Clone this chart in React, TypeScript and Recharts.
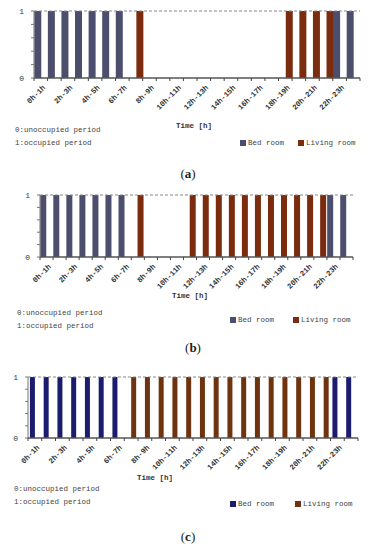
// occupancy schedule - three bar panels (a) (b) (c)

import { BarChart, Bar, XAxis, YAxis, ReferenceLine, Legend } from "recharts";

// hour categories, one per hour of the day
const hours = [
  "0h-1h", "1h-2h", "2h-3h", "3h-4h", "4h-5h", "5h-6h", "6h-7h", "7h-8h",
  "8h-9h", "9h-10h", "10h-11h", "11h-12h", "12h-13h", "13h-14h", "14h-15h", "15h-16h",
  "16h-17h", "17h-18h", "18h-19h", "19h-20h", "20h-21h", "21h-22h", "22h-23h", "23h-24h",
];

// (a)
const bedA    = [1, 1, 1, 1, 1, 1, 1, 0, 0, 0, 0, 0, 0, 0, 0, 0, 0, 0, 0, 0, 0, 0, 1, 1];
const livingA = [0, 0, 0, 0, 0, 0, 0, 1, 0, 0, 0, 0, 0, 0, 0, 0, 0, 0, 1, 1, 1, 1, 0, 0];

// (b)
const bedB    = [1, 1, 1, 1, 1, 1, 1, 0, 0, 0, 0, 0, 0, 0, 0, 0, 0, 0, 0, 0, 0, 0, 1, 1];
const livingB = [0, 0, 0, 0, 0, 0, 0, 1, 0, 0, 0, 1, 1, 1, 1, 1, 1, 1, 1, 1, 1, 1, 0, 0];

// (c)
const bedC    = [1, 1, 1, 1, 1, 1, 1, 0, 0, 0, 0, 0, 0, 0, 0, 0, 0, 0, 0, 0, 0, 0, 1, 1];
const livingC = [0, 0, 0, 0, 0, 0, 0, 1, 1, 1, 1, 1, 1, 1, 1, 1, 1, 1, 1, 1, 1, 1, 0, 0];

const yTicks = [0, 0.2, 0.4, 0.6, 0.8, 1];

const noteLines = ["0:unoccupied period", "1:occupied period"];

const MONO = "'Liberation Mono', 'DejaVu Sans Mono', monospace";
const SERIF = "'Liberation Serif', 'DejaVu Serif', serif";

const toRows = (bed: number[], living: number[]) =>
  hours.map((h, i) => ({ hour: h, bed: bed[i], living: living[i] }));

// layout of each panel (page coordinates)
const panels = [
  {
    caption: "a", rows: toRows(bedA, livingA), top: 0,
    margin: { top: 11, right: 16, left: 14, bottom: 36 },
    bedColor: "#4b4e6d", livingColor: "#7b2c0e", catGap: "2%",
    legend: { top: 138, left: 240, gap: 14 },
    time: { x: 194, y: 126 }, note: { x: 15, y: 130 }, cap: { x: 188, y: 174 },
  },
  {
    caption: "b", rows: toRows(bedB, livingB), top: 184,
    margin: { top: 11, right: 23, left: 20, bottom: 41 },
    bedColor: "#4b4e6d", livingColor: "#7b2c0e", catGap: "2%",
    legend: { top: 131, left: 230, gap: 19 },
    time: { x: 190, y: 296 }, note: { x: 17, y: 313 }, cap: { x: 193, y: 348 },
  },
  {
    caption: "c", rows: toRows(bedC, livingC), top: 366,
    margin: { top: 11, right: 18, left: 8, bottom: 42 },
    bedColor: "#1c1c6e", livingColor: "#6e3410", catGap: "14%",
    legend: { top: 133, left: 230, gap: 21 },
    time: { x: 155, y: 478 }, note: { x: 14, y: 489 }, cap: { x: 188, y: 537 },
  },
];


// x ticks: mark on every category boundary, label on every 2nd hour
function HourTick(props: any) {
  const { x, y, payload, index, visibleTicksCount } = props;
  const half = payload && payload.offset != null ? payload.offset : 6.8;
  const tx = x + 5;
  const ty = y + 10;
  return (
    <g>
      <line x1={x - half} y1={y} x2={x - half} y2={y + 3} stroke="#444" />
      {index === visibleTicksCount - 1 && (
        <line x1={x + half} y1={y} x2={x + half} y2={y + 3} stroke="#444" />
      )}
      {index % 2 === 0 && (
        <text x={tx} y={ty} transform={`rotate(-45 ${tx} ${ty})`} textAnchor="end"
          fontSize={7.5} fontWeight="bold" fill="#333" fontFamily={MONO}>
          {payload.value}
        </text>
      )}
    </g>
  );
}


function RoomLegend({ payload, gap }: any) {
  return (
    <div style={{ display: "flex", gap, fontFamily: MONO, fontSize: 7.5, color: "#444", lineHeight: "10px" }}>
      {(payload || []).map((p: any) => (
        <span key={p.value} style={{ display: "flex", alignItems: "center", gap: 2 }}>
          <span style={{ width: 6, height: 6, background: p.color, display: "inline-block" }} />
          {p.value}
        </span>
      ))}
    </div>
  );
}


function Panel({ p }: { p: (typeof panels)[number] }) {
  return (
    <div style={{ position: "absolute", left: 0, top: p.top }}>
      <BarChart width={376} height={150} data={p.rows} margin={p.margin} barCategoryGap={p.catGap} barGap={0}>
        <XAxis dataKey="hour" interval={0} height={36} tickLine={false} tickSize={0} tickMargin={0}
          axisLine={{ stroke: "#555", strokeWidth: 1.5 }} tick={<HourTick />} />
        <YAxis domain={[0, 1]} ticks={yTicks} width={20} tickSize={3} tickMargin={7}
          tickFormatter={(v: number) => (v === 0 || v === 1 ? String(v) : "")}
          tick={{ fontSize: 8, fill: "#333", fontFamily: MONO }}
          axisLine={{ stroke: "#777" }} tickLine={{ stroke: "#777" }} />
        <ReferenceLine y={1} stroke="#888" strokeDasharray="3 2" />
        <Bar dataKey="bed" name="Bed room" fill={p.bedColor} isAnimationActive={false} />
        <Bar dataKey="living" name="Living room" fill={p.livingColor} isAnimationActive={false} />
        <Legend layout="horizontal" verticalAlign="middle" align="center"
          wrapperStyle={{ top: p.legend.top, left: p.legend.left, width: "auto" }}
          content={<RoomLegend gap={p.legend.gap} />} />
      </BarChart>
    </div>
  );
}


export default function App() {
  const txt: React.CSSProperties = { position: "absolute", fontFamily: MONO, fontSize: 7.5, color: "#444", whiteSpace: "nowrap", lineHeight: "10px" };

  return (
    <div style={{ position: "absolute", left: 0, top: 0, width: 376, height: 550, background: "#fff", overflow: "hidden" }}>
      {panels.map((p) => (
        <div key={p.caption}>
          <Panel p={p} />

          {/* axis title */}
          <div style={{ ...txt, left: p.time.x, top: p.time.y - 5, transform: "translateX(-50%)", fontWeight: "bold", color: "#333" }}>
            Time [h]
          </div>

          {/* 0 / 1 meaning */}
          {noteLines.map((line, i) => (
            <div key={line} style={{ ...txt, left: p.note.x, top: p.note.y - 5 + i * 12.5 }}>{line}</div>
          ))}

          {/* sub figure caption */}
          <div style={{ position: "absolute", left: p.cap.x, top: p.cap.y - 8, transform: "translateX(-50%)", fontFamily: SERIF, fontSize: 13, color: "#222", lineHeight: "16px" }}>
            (<b>{p.caption}</b>)
          </div>
        </div>
      ))}
    </div>
  );
}
